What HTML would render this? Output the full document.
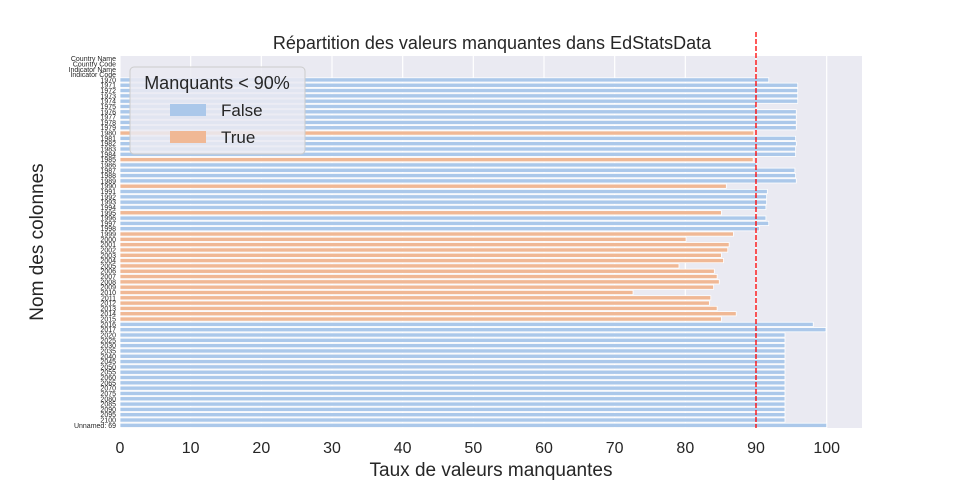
<!DOCTYPE html>
<html><head><meta charset="utf-8"><style>
body{margin:0;background:#fff;}
svg{display:block;font-family:"Liberation Sans",sans-serif;}
</style></head><body>
<svg id="chart" width="960" height="480"></svg>
<script>
const categories=["Country Name","Country Code","Indicator Name","Indicator Code","1970","1971","1972","1973","1974","1975","1976","1977","1978","1979","1980","1981","1982","1983","1984","1985","1986","1987","1988","1989","1990","1991","1992","1993","1994","1995","1996","1997","1998","1999","2000","2001","2002","2003","2004","2005","2006","2007","2008","2009","2010","2011","2012","2013","2014","2015","2016","2017","2020","2025","2030","2035","2040","2045","2050","2055","2060","2065","2070","2075","2080","2085","2090","2095","2100","Unnamed: 69"];
const missingValues=[0,0,0,0,91.8,95.9,95.9,95.9,95.9,90.1,95.7,95.7,95.7,95.7,89.7,95.6,95.7,95.6,95.6,89.6,90.1,95.5,95.6,95.7,85.8,91.6,91.5,91.5,91.4,85.1,91.4,91.8,90.5,86.8,80.1,86.2,86.0,85.1,85.4,79.1,84.1,84.5,84.8,84.0,72.6,83.6,83.4,84.5,87.2,85.1,98.1,99.9,94.1,94.1,94.1,94.1,94.1,94.1,94.1,94.1,94.1,94.1,94.1,94.1,94.1,94.1,94.1,94.1,94.1,100];
const xTicks=[0,10,20,30,40,50,60,70,80,90,100];
const threshold=90;
const NS="http://www.w3.org/2000/svg";
const svg=document.getElementById('chart');
const L=120,R=862,T=56,B=428,XMAX=105;
const xs=v=>L+(v/XMAX)*(R-L);
const pitch=(B-T)/categories.length;
const ys=i=>T+pitch*i;
function mk(tag,attrs,parent){const e=document.createElementNS(NS,tag);for(const k in attrs)e.setAttribute(k,attrs[k]);(parent||svg).appendChild(e);return e;}
const bg=mk('rect',{x:L,y:T,width:R-L,height:B-T,fill:'#EAEAF2'});


xTicks.forEach(t=>{
  const g=mk('line',{x1:xs(t),x2:xs(t),y1:T,y2:B,stroke:'#fff','stroke-width':1.2});
  
  
  const lb=mk('text',{x:xs(t),y:453,'text-anchor':'middle','font-size':16,fill:'#262626'});
  lb.textContent=t;
  
  
});
categories.forEach((c,i)=>{
  const v=missingValues[i];
  if(v>0){
    const r=mk('rect',{x:L,y:ys(i)+pitch*0.1,width:xs(v)-L,height:pitch*0.8,fill:v<threshold?'#F0B895':'#ABC8EA',stroke:'#fff','stroke-width':0.8});
    
    
  }
  const lb=mk('text',{x:116,y:ys(i)+pitch/2+2.5,'text-anchor':'end','font-size':7,fill:'#262626'});
  lb.textContent=c;
  
  
});
const th=mk('line',{x1:xs(threshold),x2:xs(threshold),y1:T-24,y2:B,stroke:'#ff0000','stroke-width':1.3,'stroke-dasharray':'5,2'});


</script>
<svg width="0" height="0"></svg>
<script>
(function(){
const NS="http://www.w3.org/2000/svg";const svg=document.getElementById('chart');
function mk(tag,attrs,txt){const e=document.createElementNS(NS,tag);for(const k in attrs)e.setAttribute(k,attrs[k]);if(txt)e.textContent=txt;svg.appendChild(e);return e;}
let e;
e=mk('text',{x:492,y:49,'text-anchor':'middle','font-size':18,fill:'#262626'},'Répartition des valeurs manquantes dans EdStatsData');

e=mk('text',{x:491,y:476,'text-anchor':'middle','font-size':19,fill:'#262626'},'Taux de valeurs manquantes');

e=mk('text',{x:0,y:0,'text-anchor':'middle','font-size':19,fill:'#262626',transform:'translate(43,242) rotate(-90)'},'Nom des colonnes');

e=mk('rect',{x:130,y:67,width:175,height:87,rx:4,fill:'#EAEAF2','fill-opacity':0.85,stroke:'#cccccc'});

e=mk('text',{x:217,y:89,'text-anchor':'middle','font-size':18,fill:'#262626'},'Manquants < 90%');

e=mk('rect',{x:170,y:104,width:36,height:12,fill:'#ABC8EA'});

e=mk('text',{x:221,y:116,'font-size':17,fill:'#262626'},'False');

e=mk('rect',{x:170,y:131,width:36,height:12,fill:'#F0B895'});

e=mk('text',{x:221,y:143,'font-size':17,fill:'#262626'},'True');

})();
</script>
</body></html>
